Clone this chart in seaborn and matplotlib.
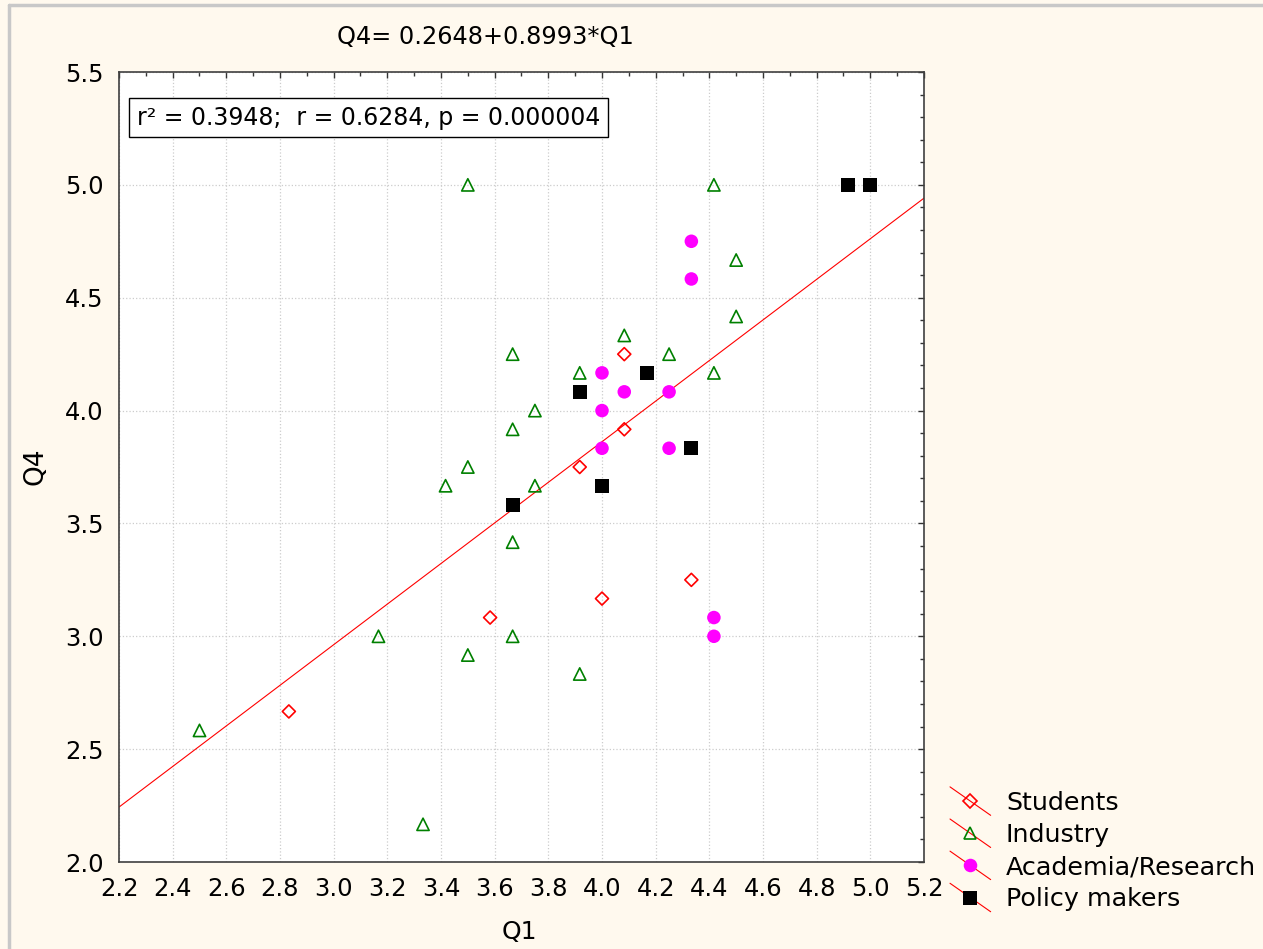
import numpy as np
import pandas as pd
import matplotlib
matplotlib.use('Agg')
import matplotlib.pyplot as plt
import seaborn as sns
from matplotlib.lines import Line2D
from matplotlib.legend_handler import HandlerBase
from matplotlib.ticker import MultipleLocator

# data (group means, in twelfths)
students_q1 = [2.833, 3.583, 3.917, 4.0, 4.083, 4.083, 4.333]
students_q4 = [2.667, 3.083, 3.75, 3.167, 4.25, 3.917, 3.25]

industry_q1 = [2.5, 3.167, 3.333, 3.417, 3.5, 3.5, 3.5, 3.667, 3.667, 3.667, 3.667,
               3.75, 3.75, 3.917, 3.917, 4.083, 4.25, 4.417, 4.417, 4.5, 4.5]
industry_q4 = [2.583, 3.0, 2.167, 3.667, 5.0, 3.75, 2.917, 4.25, 3.917, 3.417, 3.0,
               4.0, 3.667, 4.167, 2.833, 4.333, 4.25, 5.0, 4.167, 4.667, 4.417]

academia_q1 = [4.0, 4.0, 4.0, 4.083, 4.25, 4.25, 4.333, 4.333, 4.417, 4.417]
academia_q4 = [4.167, 4.0, 3.833, 4.083, 4.083, 3.833, 4.75, 4.583, 3.083, 3.0]

policy_q1 = [3.667, 3.917, 4.0, 4.167, 4.333, 4.917, 5.0]
policy_q4 = [3.583, 4.083, 3.667, 4.167, 3.833, 5.0, 5.0]

groups = ['Students', 'Industry', 'Academia/Research', 'Policy makers']
intercept = 0.2648
slope = 0.8993
title = 'Q4= 0.2648+0.8993*Q1'
stats_text = 'r² = 0.3948;  r = 0.6284, p = 0.000004'

sns.set_style('white')
plt.rcParams['font.family'] = ['DejaVu Sans']
plt.rcParams['text.color'] = 'black'
plt.rcParams['axes.labelcolor'] = 'black'
plt.rcParams['xtick.color'] = 'black'
plt.rcParams['ytick.color'] = 'black'

bg = '#fff9ee'
fig = plt.figure(figsize=(12.63, 9.49), dpi=100, facecolor=bg)
ax = fig.add_axes([119/1263, 1 - 862/949, 805/1263, 790/949])
ax.set_facecolor('white')

styles = [
    dict(marker='D', s=44, facecolor='none', edgecolor='#ff0000', linewidth=1.2),
    dict(marker='^', s=78, facecolor='none', edgecolor='#008000', linewidth=1.2),
    dict(marker='o', s=95, facecolor='#ff00ff', edgecolor='none', linewidth=0),
    dict(marker='s', s=100, facecolor='black', edgecolor='none', linewidth=0),
]
xs = [students_q1, industry_q1, academia_q1, policy_q1]
ys = [students_q4, industry_q4, academia_q4, policy_q4]

for q1, q4, st in zip(xs, ys, styles):
    sns.scatterplot(x=q1, y=q4, ax=ax, legend=False, zorder=3, **st)

ax.axline((0, intercept), slope=slope, color='red', lw=0.8, zorder=2)

ax.set_xlim(2.2, 5.2)
ax.set_ylim(2.0, 5.5)
ax.xaxis.set_major_locator(MultipleLocator(0.2))
ax.xaxis.set_minor_locator(MultipleLocator(0.1))
ax.yaxis.set_major_locator(MultipleLocator(0.5))
ax.yaxis.set_minor_locator(MultipleLocator(0.1))
ax.xaxis.set_major_formatter(plt.FormatStrFormatter('%.1f'))
ax.yaxis.set_major_formatter(plt.FormatStrFormatter('%.1f'))
ax.grid(True, which='major', color='#cccccc', linestyle=':', linewidth=0.9)
ax.set_axisbelow(True)

ax.tick_params(which='both', direction='in', top=True, right=True, color='#333333', width=1)
ax.tick_params(which='major', length=4)
ax.tick_params(which='minor', length=3)
ax.tick_params(axis='x', which='major', labelsize=17.5, pad=11)
ax.tick_params(axis='y', which='major', labelsize=17.5, pad=11)
for sp in ax.spines.values():
    sp.set_color('#404040')
    sp.set_linewidth(1.2)

ax.set_xlabel('Q1', fontsize=18)
ax.set_ylabel('Q4', fontsize=19)
ax.xaxis.set_label_coords(0.4975, -0.074)
ax.yaxis.set_label_coords(-0.088, 0.501)

ax.text(0.022, 0.9424, stats_text, transform=ax.transAxes, fontsize=17,
        ha='left', va='center', zorder=5,
        bbox=dict(boxstyle='square,pad=0.32', facecolor='white', edgecolor='black', linewidth=1))

fig.text(485/1263, 1 - 37/949, title, ha='center', va='center', fontsize=17.3)


class DiagonalHandler(HandlerBase):
    def create_artists(self, legend, orig_handle, xdescent, ydescent, width, height, fontsize, trans):
        x0 = -xdescent
        x1 = x0 + width
        line = Line2D([x0, x1], [-ydescent + height * 1.3, -ydescent - height * 0.3],
                      color='red', lw=0.8)
        mk = Line2D([(x0 + x1) / 2], [-ydescent + height / 2], linestyle='none',
                    marker=orig_handle.get_marker(), markersize=orig_handle.get_markersize(),
                    markerfacecolor=orig_handle.get_markerfacecolor(),
                    markeredgecolor=orig_handle.get_markeredgecolor(),
                    markeredgewidth=orig_handle.get_markeredgewidth())
        line.set_transform(trans)
        mk.set_transform(trans)
        return [line, mk]


handles = []
for st in styles:
    handles.append(Line2D([], [], color='red', marker=st['marker'], markersize=np.sqrt(st['s']),
                          markerfacecolor=st['facecolor'], markeredgecolor=st['edgecolor'],
                          markeredgewidth=st['linewidth']))
fig.legend(handles, groups, handler_map={Line2D: DiagonalHandler()},
           loc='upper left', bbox_to_anchor=(950/1263, 1 - 791/949), frameon=False,
           fontsize=18.3, handlelength=1.6, handletextpad=0.6, labelspacing=0.32,
           borderpad=0, borderaxespad=0)

# window frame visible in the screenshot
fig.add_artist(Line2D([9/1263, 9/1263], [0, 1 - 5/949], transform=fig.transFigure,
                      color='#c8c8c8', lw=2.5))
fig.add_artist(Line2D([9/1263, 1], [1 - 5/949, 1 - 5/949], transform=fig.transFigure,
                      color='#c8c8c8', lw=2.5))

fig.savefig('out.png', dpi=100, facecolor=bg)
